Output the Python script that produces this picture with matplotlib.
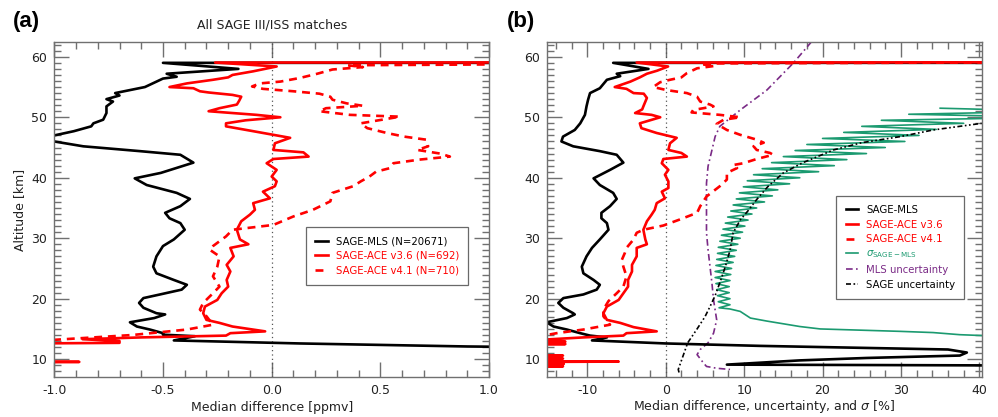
import matplotlib
matplotlib.use("Agg")
import matplotlib.pyplot as plt
from matplotlib.ticker import MultipleLocator

plt.rcParams['font.family'] = ['DejaVu Sans']
plt.rcParams['axes.unicode_minus'] = False

# ---------------- Panel (a): ppmv ----------------
a_mls_alt = [59.0, 59.0, 58.0, 57.2, 56.7, 56.4, 55.0, 54.0, 53.6, 53.0, 52.6, 51.8, 50.7, 49.6, 49.0, 48.5,
             47.7, 47.0, 46.5, 46.0, 45.2, 44.4, 43.8, 42.5, 40.8, 39.9, 38.8, 37.5, 36.5, 35.3, 34.2, 33.3,
             32.5, 31.4, 29.8, 28.7, 27.0, 25.3, 24.2, 23.1, 22.3, 21.5, 20.7, 20.1, 19.3, 18.5, 17.6, 17.4,
             16.8, 16.1, 15.4, 14.9, 14.3, 14.05, 13.8, 13.1, 12.6, 12.1, 11.9, 11.0, 9.0, 8.0]
a_mls_val = [3.0, -0.50, -0.153, -0.483, -0.437, -0.50, -0.583, -0.72, -0.70, -0.76, -0.73, -0.76, -0.76, -0.775,
             -0.82, -0.83, -0.91, -1.0, -1.05, -1.0, -0.867, -0.606, -0.42, -0.36, -0.51, -0.63, -0.575, -0.437,
             -0.376, -0.42, -0.49, -0.47, -0.42, -0.40, -0.45, -0.50, -0.53, -0.545, -0.53, -0.45, -0.39, -0.414,
             -0.514, -0.59, -0.61, -0.59, -0.53, -0.49, -0.54, -0.652, -0.62, -0.56, -0.50, -0.50, -0.353, -0.45,
             0.13, 0.9, 1.5, 2.5, 2.0, 2.0]

a_ace36_alt = [59.1, 59.05, 58.4, 57.6, 57.0, 56.6, 56.2, 55.6, 55.0, 54.8, 54.3, 54.1, 53.7, 53.4, 52.7, 52.1,
               51.5, 51.0, 50.4, 50.0, 49.5, 49.0, 48.5, 47.7, 46.6, 45.7, 44.6, 44.2, 43.5, 43.1, 42.4, 41.3,
               40.2, 39.4, 38.6, 37.7, 36.6, 35.8, 34.7, 33.9, 32.8, 31.4, 29.8, 29.0, 28.4, 27.0, 25.6, 24.5,
               23.1, 22.0, 20.9, 19.8, 18.7, 17.6, 16.5, 16.0, 15.4, 14.6, 14.3, 13.9, 13.6, 13.3, 13.0, 12.7,
               12.5, 9.8, 9.55, 9.3, 8.0]
a_ace36_val = [3.0, -0.26, 0.023, -0.085, -0.18, -0.20, -0.27, -0.39, -0.47, -0.36, -0.33, -0.29, -0.18, -0.14,
               -0.15, -0.16, -0.24, -0.29, -0.07, 0.04, -0.12, -0.21, -0.21, -0.085, 0.085, 0.015, 0.008, 0.146,
               0.17, 0.008, -0.023, 0.023, 0.0, 0.023, 0.015, -0.04, -0.008, -0.085, -0.077, -0.10, -0.14, -0.16,
               -0.146, -0.107, -0.19, -0.175, -0.207, -0.19, -0.207, -0.20, -0.23, -0.25, -0.307, -0.315, -0.30,
               -0.24, -0.18, -0.03, -0.19, -0.21, -0.60, -0.87, -0.70, -0.70, -1.5, -1.5, -0.885, -1.5, -1.5]

a_ace41_alt = [59.15, 58.6, 58.3, 57.9, 57.2, 56.5, 55.9, 55.6, 55.1, 54.7, 54.3, 53.9, 53.4, 52.9, 52.3, 51.9,
               51.5, 51.0, 50.4, 50.1, 49.0, 48.2, 47.4, 46.8, 46.3, 45.2, 44.6, 44.0, 43.5, 43.0, 42.4, 41.6,
               41.0, 40.2, 39.4, 38.6, 37.5, 36.1, 34.7, 33.6, 32.2, 31.4, 30.3, 28.7, 28.1, 27.0, 25.3, 23.7,
               22.0, 20.9, 19.3, 18.2, 17.1, 15.7, 14.9, 14.0, 13.2, 12.9, 8.0]
a_ace41_val = [3.0, 0.35, 0.42, 0.28, 0.21, 0.13, 0.04, -0.054, -0.09, -0.04, 0.10, 0.22, 0.27, 0.28, 0.345, 0.42,
               0.25, 0.22, 0.36, 0.59, 0.41, 0.44, 0.53, 0.61, 0.71, 0.72, 0.67, 0.775, 0.82, 0.68, 0.56, 0.545,
               0.48, 0.45, 0.41, 0.375, 0.28, 0.27, 0.19, 0.10, 0.008, -0.18, -0.21, -0.27, -0.285, -0.24, -0.25,
               -0.27, -0.24, -0.27, -0.315, -0.33, -0.30, -0.27, -0.39, -0.64, -1.0, -1.5, -1.5]

# ---------------- Panel (b): percent ----------------
b_mls_alt = [59.0, 59.0, 58.0, 57.2, 56.8, 56.2, 54.8, 54.0, 52.9, 51.8, 50.4, 49.0, 47.9, 46.8, 46.0, 45.2,
             44.4, 43.8, 42.5, 41.3, 39.9, 38.8, 37.5, 36.5, 35.3, 34.2, 33.3, 32.5, 31.4, 29.8, 28.4, 27.0,
             25.3, 24.2, 23.1, 22.3, 21.5, 20.7, 20.1, 19.3, 18.5, 17.6, 17.4, 16.8, 16.1, 15.4, 14.9, 14.3,
             13.9, 13.6, 13.1, 12.6, 12.2, 11.8, 11.6, 11.1, 10.6, 10.2, 9.8, 9.1, 8.9, 8.0]
b_mls_val = [60, -6.7, -2.2, -6.25, -5.8, -7.5, -8.4, -9.65, -9.9, -10.1, -10.3, -10.9, -11.6, -13.1, -13.3, -11.8,
             -8.4, -6.25, -5.4, -7.1, -9.2, -8.4, -6.7, -6.25, -7.1, -8.2, -8.2, -7.5, -7.3, -8.4, -9.4, -10.1,
             -10.7, -10.5, -9.2, -8.4, -8.8, -10.5, -13.05, -13.7, -13.05, -11.8, -11.6, -12.6, -15.2, -14.3,
             -12.6, -10.9, -9.65, -7.5, -9.4, 0.0, 12.0, 28.0, 36.0, 38.4, 37.5, 25.6, 17.1, 7.8, 60, 60]

b_ace36_alt = [59.1, 59.05, 58.4, 57.7, 57.2, 56.6, 55.9, 55.0, 54.7, 54.0, 53.9, 53.2, 51.8, 51.3, 50.7, 50.4,
               50.0, 49.0, 48.2, 47.4, 46.6, 45.7, 44.6, 44.1, 43.5, 43.1, 42.4, 41.3, 40.5, 39.4, 38.3, 37.7,
               36.6, 35.8, 34.7, 33.9, 32.8, 31.4, 29.8, 29.0, 28.4, 27.0, 25.6, 24.5, 23.1, 22.0, 20.9, 19.8,
               18.7, 17.6, 16.5, 16.0, 15.3, 14.6, 14.3, 13.9, 13.6, 13.2,
               12.95, 12.9, 12.85, 12.55, 12.5, 12.45, 10.65, 10.6, 10.55, 10.15, 10.1, 10.05,
               9.65, 9.6, 9.55, 9.25, 9.2, 9.15, 8.85, 8.8, 8.75, 8.0]
b_ace36_val = [60, -3.7, 0.3, -1.1, -2.4, -3.3, -4.5, -6.5, -5.0, -4.1, -2.8, -2.4, -2.85, -3.0, -3.9, -1.8,
               -0.7, -3.3, -3.1, -1.15, 1.4, 0.55, 0.34, 2.0, 2.7, -0.3, -0.5, 0.34, -0.1, 0.34, 0.34, -0.5,
               -0.1, -1.15, -1.4, -1.8, -2.4, -2.85, -2.6, -2.4, -3.7, -3.7, -4.3, -4.3, -4.8, -4.8, -5.4, -6.0,
               -7.5, -7.95, -7.5, -5.8, -4.1, -1.15, -5.0, -5.4, -10.5, -16,
               -16, -12.8, -16, -16, -12.8, -16, -16, -13.1, -16, -16, -13.1, -16,
               -16, -6.0, -16, -16, -13.0, -16, -16, -13.1, -16, -16]

b_ace41_alt = [59.15, 58.9, 58.8, 58.5, 58.1, 57.3, 56.6, 56.2, 55.8, 55.0, 54.5, 54.0, 53.4, 52.6, 52.1, 51.8,
               51.2, 50.8, 50.4, 50.0, 49.6, 48.9, 47.9, 47.1, 46.3, 45.8, 45.2, 44.6, 44.1, 43.8, 43.1, 42.4,
               42.1, 41.6, 40.8, 39.7, 38.6, 36.9, 35.3, 34.2, 33.1, 32.1, 31.4, 30.9, 29.8, 28.4, 27.6, 26.4,
               25.3, 23.7, 22.0, 20.9, 19.6, 18.2, 17.1, 15.7, 14.9, 14.3, 13.8, 8.0]
b_ace41_val = [60, 5.5, 4.4, 6.3, 4.0, 2.7, 2.0, 0.55, -0.7, -1.6, 0.1, 2.7, 4.0, 4.4, 5.65, 6.1,
               3.5, 3.3, 6.9, 9.5, 7.4, 6.5, 7.8, 9.5, 11.6, 12.5, 11.2, 11.6, 13.3, 13.7, 11.6, 9.9,
               8.6, 9.1, 7.8, 7.8, 6.9, 5.2, 4.4, 4.0, 1.8, -0.3, -2.85, -3.7, -4.1, -5.0, -5.2, -5.6,
               -5.4, -5.0, -5.4, -6.25, -7.3, -7.95, -7.95, -7.1, -10.5, -13.9, -16, -16]

sigma_alt = [13.9, 14.05, 14.4, 14.6, 15.0, 15.4, 16.3, 16.8, 17.9, 18.3,
             18.5, 19.0, 19.5, 20.0, 20.5, 21.0, 21.5, 22.0, 22.5, 23.0, 23.5, 24.0, 24.5, 25.0, 25.5, 26.0,
             26.5, 27.0, 27.5, 28.0, 28.5, 29.0, 29.5, 30.0, 30.5, 31.0, 31.5, 32.0, 32.5, 33.0, 33.5, 34.0,
             34.5, 35.0, 35.5, 36.0, 36.5, 37.0, 37.5, 38.0, 38.5, 39.0, 39.5, 40.0, 40.5, 41.0, 41.5, 42.0,
             42.5, 43.0, 43.5, 44.0, 44.5, 45.0, 45.5, 46.0, 46.5, 47.0, 47.5, 48.0, 48.5, 49.0, 49.5, 50.0,
             50.5, 51.0, 51.5]
sigma_val = [40.5, 37.5, 34.1, 29.9, 19.7, 17.1, 12.9, 10.8, 9.5, 8.2,
             6.8, 8.2, 6.7, 8.2, 6.6, 8.1, 6.5, 8.1, 6.4, 8.2, 6.3, 8.3, 6.3, 8.4, 6.4, 8.6,
             6.5, 8.8, 6.6, 9.0, 6.7, 9.2, 6.9, 9.5, 7.1, 9.8, 7.3, 10.1, 7.6, 10.5, 7.9, 11.0,
             8.3, 11.6, 8.6, 12.6, 9.0, 13.6, 9.4, 14.3, 9.9, 15.8, 10.4, 17.1, 11.2, 19.5, 12.3, 21.5,
             13.5, 23.1, 15.0, 25.6, 16.5, 28.0, 18.0, 30.5, 20.0, 32.3, 22.7, 34.5, 25.0, 38.0, 27.5, 50.0,
             31.0, 50.0, 35.0]

mlsunc_alt = [62.5, 59.0, 54.5, 51.2, 48.5, 46.8, 44.6, 41.9, 39.1, 36.4, 33.6, 30.9, 28.1, 25.3, 22.5, 19.8,
              16.5, 14.3, 12.7, 11.6, 10.75, 9.4, 8.8, 8.5, 8.3]
mlsunc_val = [18.6, 16.3, 12.9, 9.5, 6.9, 6.3, 5.9, 5.4, 5.2, 5.2, 5.2, 5.2, 5.4, 5.65, 5.9, 6.1,
              6.5, 6.1, 5.4, 4.4, 4.0, 4.8, 5.2, 6.5, 8.2]

sageunc_alt = [7.8, 8.3, 10.5, 12.7, 15.0, 17.0, 18.7, 20.5, 23.0, 25.3, 28.0, 30.9, 33.0, 34.7, 36.4, 38.5,
               40.8, 42.5, 44.6, 45.8, 46.8, 47.9, 49.0]
sageunc_val = [1.7, 1.6, 2.2, 2.8, 4.0, 5.0, 5.65, 6.3, 7.0, 7.6, 8.2, 8.6, 9.5, 10.6, 11.6, 13.0,
               15.0, 17.5, 21.4, 25.0, 29.9, 34.1, 40.3]

a_xticks = [-1.0, -0.5, 0.0, 0.5, 1.0]
b_xticks = [-10, 0, 10, 20, 30, 40]
y_ticks = [10, 20, 30, 40, 50, 60]

RED = '#ff0000'
GREEN = '#1b9a70'
PURPLE = '#7a2a86'
TICKC = '#707070'

fig = plt.figure(figsize=(9.98, 4.17), dpi=100)
axa = fig.add_axes([0.0544, 0.0966, 0.4356, 0.802])
axb = fig.add_axes([0.5484, 0.0966, 0.4353, 0.802])

def style(ax):
    ax.tick_params(which='both', direction='in', top=True, right=True, color=TICKC, width=1.0,
                   labelsize=9, labelcolor='#222222', pad=5)
    ax.tick_params(which='major', length=11)
    ax.tick_params(which='minor', length=5)
    for s in ax.spines.values():
        s.set_color(TICKC)
        s.set_linewidth(1.0)
    ax.set_ylim(7.1, 62.4)
    ax.set_yticks(y_ticks)
    ax.yaxis.set_minor_locator(MultipleLocator(1))

lw = 1.9
# panel a
axa.axvline(0, color='#555555', ls=(0, (1, 2.5)), lw=0.9)
la1, = axa.plot(a_mls_val, a_mls_alt, color='black', lw=lw)
la2, = axa.plot(a_ace36_val, a_ace36_alt, color=RED, lw=lw)
la3, = axa.plot(a_ace41_val, a_ace41_alt, color=RED, lw=lw, ls=(0, (3.0, 2.2)))
style(axa)
axa.set_xlim(-1.0, 1.0)
axa.set_xticks(a_xticks)
axa.set_xticklabels(['-1.0', '-0.5', '0.0', '0.5', '1.0'])
axa.xaxis.set_minor_locator(MultipleLocator(0.1))
axa.set_xlabel('Median difference [ppmv]', fontsize=9, color='#222222', labelpad=3)
axa.set_ylabel('Altitude [km]', fontsize=9, color='#222222', labelpad=4)
axa.set_title('All SAGE III/ISS matches', fontsize=9, color='#222222', pad=10)
lega = axa.legend([la1, la2, la3], ['SAGE-MLS (N=20671)', 'SAGE-ACE v3.6 (N=692)', 'SAGE-ACE v4.1 (N=710)'],
                  loc='upper left', bbox_to_anchor=(0.568, 0.462), fontsize=7.3, frameon=True, fancybox=False,
                  edgecolor='#444444', handlelength=1.2, handletextpad=0.8, labelspacing=0.45,
                  borderpad=0.9, labelcolor='linecolor')
lega.get_frame().set_linewidth(0.9)

# panel b
axb.axvline(0, color='#555555', ls=(0, (1, 2.5)), lw=0.9)
lb4, = axb.plot(sigma_val, sigma_alt, color=GREEN, lw=1.2)
lb5, = axb.plot(mlsunc_val, mlsunc_alt, color=PURPLE, lw=1.2, ls=(0, (4, 2, 1, 2)))
lb6, = axb.plot(sageunc_val, sageunc_alt, color='black', lw=1.2, ls=(0, (3, 1.5, 1, 1.5, 1, 1.5)))
lb1, = axb.plot(b_mls_val, b_mls_alt, color='black', lw=lw)
lb2, = axb.plot(b_ace36_val, b_ace36_alt, color=RED, lw=lw)
lb3, = axb.plot(b_ace41_val, b_ace41_alt, color=RED, lw=lw, ls=(0, (3.0, 2.2)))
style(axb)
axb.set_xlim(-15.1, 40.3)
axb.set_xticks(b_xticks)
axb.xaxis.set_minor_locator(MultipleLocator(2))
axb.set_xlabel(r'Median difference, uncertainty, and $\sigma$ [%]', fontsize=9, color='#222222', labelpad=1)
legb = axb.legend([lb1, lb2, lb3, lb4, lb5, lb6],
                  ['SAGE-MLS', 'SAGE-ACE v3.6', 'SAGE-ACE v4.1', r'$\sigma_{\mathrm{SAGE-MLS}}$',
                   'MLS uncertainty', 'SAGE uncertainty'],
                  loc='upper left', bbox_to_anchor=(0.654, 0.556), fontsize=7.3, frameon=True, fancybox=False,
                  edgecolor='#444444', handlelength=1.2, handletextpad=0.8, labelspacing=0.45,
                  borderpad=0.9, labelcolor='linecolor')
legb.get_frame().set_linewidth(0.9)

fig.text(0.013, 1 - 22 / 417, '(a)', fontsize=16, fontweight='bold', family='Liberation Sans', va='center')
fig.text(0.508, 1 - 22 / 417, '(b)', fontsize=16, fontweight='bold', family='Liberation Sans', va='center')

fig.savefig('out.png', dpi=100)
